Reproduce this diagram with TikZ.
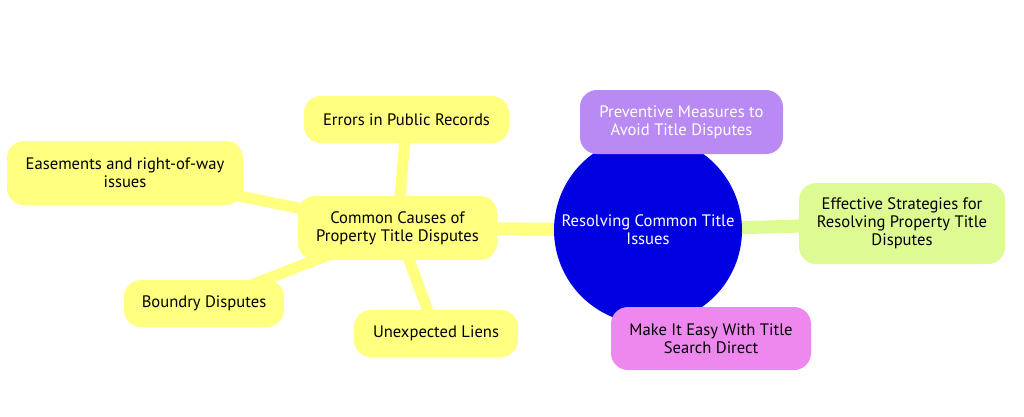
\documentclass[tikz,border=0pt]{standalone}
\usepackage{fontspec}
\setmainfont{PT Sans}
\usetikzlibrary{backgrounds}
\definecolor{rootblue}{HTML}{0000E0}
\definecolor{secyellow}{HTML}{FFFF80}
\definecolor{secgreen}{HTML}{DDFB92}
\definecolor{secpurple}{HTML}{B98AF3}
\definecolor{secpink}{HTML}{EE88EE}

\begin{document}
\begin{tikzpicture}[x=1pt,y=-1pt,
  topic/.style={rounded corners=17pt,inner sep=0pt,align=center,
    font=\fontsize{16.6}{17.8}\selectfont},
  yellowbox/.style={topic,fill=secyellow,text=black},
  edge0/.style={line width=13pt},
  edge1/.style={line width=11pt,secyellow}]
  \useasboundingbox (0,0) rectangle (1024,416);
  \node[circle,fill=rootblue,text=white,minimum size=188pt,inner sep=0pt,align=center,
    font=\fontsize{16.6}{17.8}\selectfont] (root) at (648,230) {Resolving Common Title\\Issues};
  \node[yellowbox,minimum width=199pt,minimum height=64pt] (causes) at (397.5,228) {Common Causes of\\Property Title Disputes};
  \node[yellowbox,minimum width=205pt,minimum height=47pt] (errors) at (406.5,119.5) {Errors in Public Records};
  \node[yellowbox,minimum width=236pt,minimum height=64pt] (easements) at (125,173) {Easements and right-of-way\\issues};
  \node[yellowbox,minimum width=160pt,minimum height=47pt] (boundry) at (204,303.5) {Boundry Disputes};
  \node[yellowbox,minimum width=164pt,minimum height=47pt] (liens) at (436,333.5) {Unexpected Liens};
  \node[topic,fill=secpurple,text=white,minimum width=203pt,minimum height=64pt] (preventive) at (681.5,122) {Preventive Measures to\\Avoid Title Disputes};
  \node[topic,fill=secgreen,text=black,minimum width=206pt,minimum height=81pt] (effective) at (902,223.5) {Effective Strategies for\\Resolving Property Title\\Disputes};
  \node[topic,fill=secpink,text=black,minimum width=200pt,minimum height=63pt] (easy) at (711,338.5) {Make It Easy With Title\\Search Direct};
  % branches go under the boxes
  \begin{scope}[on background layer]
    \draw[edge0,secyellow] (root.center) -- (causes.center);
    \draw[edge0,secgreen] (root.center) -- (effective.center);
    \draw[edge1] (causes.center) -- (errors.center);
    \draw[edge1] (causes.center) -- (easements.center);
    \draw[edge1] (causes.center) -- (boundry.center);
    \draw[edge1] (causes.center) -- (liens.center);
  \end{scope}
\end{tikzpicture}
\end{document}
